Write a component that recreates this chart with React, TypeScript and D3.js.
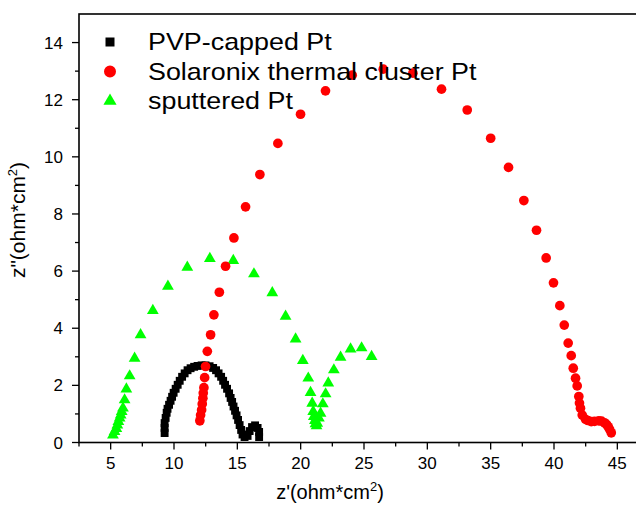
import React, { useRef, useEffect } from 'react';
import { select, scaleLinear, range, symbol, symbolSquare, symbolCircle, symbolTriangle } from 'd3';

// PVP-capped Pt (black squares)
const pvpRe = [9.26, 9.26, 9.26, 9.34, 9.42, 9.49, 9.61, 9.73, 9.85, 9.97, 10.13, 10.29, 10.45, 10.64, 10.84, 11.07, 11.31, 11.59, 11.86, 12.18, 12.49, 12.81, 13.09, 13.32, 13.52, 13.72, 13.88, 14.03, 14.19, 14.35, 14.47, 14.59, 14.7, 14.82, 14.94, 15.06, 15.18, 15.3, 15.41, 15.57, 15.81, 15.97, 16.16, 16.4, 16.6, 16.72, 16.72];
const pvpIm = [0.33, 0.51, 0.68, 0.86, 1.04, 1.18, 1.32, 1.46, 1.6, 1.74, 1.88, 2.02, 2.16, 2.3, 2.42, 2.53, 2.6, 2.65, 2.68, 2.7, 2.7, 2.67, 2.61, 2.53, 2.42, 2.3, 2.16, 2.02, 1.88, 1.72, 1.56, 1.42, 1.26, 1.11, 0.95, 0.79, 0.61, 0.44, 0.28, 0.19, 0.23, 0.4, 0.54, 0.6, 0.51, 0.37, 0.19];

// Solaronix thermal cluster Pt (red circles)
const solRe = [12.04, 12.1, 12.18, 12.23, 12.28, 12.31, 12.36, 12.42, 12.49, 12.63, 12.89, 13.15, 13.58, 14.07, 14.73, 15.65, 16.78, 18.2, 19.99, 21.96, 24.07, 26.52, 28.86, 31.12, 33.15, 35.0, 36.41, 37.62, 38.62, 39.38, 39.96, 40.46, 40.81, 41.12, 41.36, 41.52, 41.7, 41.83, 41.96, 42.01, 42.09, 42.23, 42.49, 42.68, 42.94, 43.2, 43.54, 43.75, 43.99, 44.15, 44.28, 44.39, 44.52];
const solIm = [0.76, 0.96, 1.14, 1.35, 1.55, 1.73, 1.92, 2.27, 2.66, 3.19, 3.77, 4.47, 5.26, 6.17, 7.16, 8.25, 9.38, 10.47, 11.49, 12.31, 12.86, 13.07, 12.93, 12.37, 11.64, 10.65, 9.63, 8.47, 7.43, 6.46, 5.59, 4.79, 4.11, 3.48, 3.04, 2.6, 2.25, 1.98, 1.61, 1.38, 1.2, 0.96, 0.81, 0.77, 0.73, 0.74, 0.76, 0.75, 0.69, 0.63, 0.55, 0.46, 0.34];

// sputtered Pt (green triangles)
const spuRe = [5.18, 5.31, 5.45, 5.53, 5.61, 5.71, 5.79, 5.87, 5.97, 6.1, 6.24, 6.5, 6.89, 7.36, 8.33, 9.52, 11.05, 12.83, 14.68, 16.31, 17.76, 18.81, 19.6, 20.17, 20.6, 20.78, 20.91, 20.99, 21.04, 21.12, 21.17, 21.25, 21.31, 21.44, 21.57, 21.75, 21.97, 22.18, 22.62, 23.15, 23.94, 24.81, 25.6];
const spuIm = [0.26, 0.38, 0.49, 0.61, 0.73, 0.85, 0.96, 1.08, 1.2, 1.49, 1.87, 2.33, 2.95, 3.77, 4.62, 5.47, 6.13, 6.44, 6.37, 5.9, 5.24, 4.42, 3.62, 2.87, 2.25, 1.75, 1.37, 1.08, 0.91, 0.77, 0.65, 0.58, 0.67, 0.85, 1.02, 1.35, 1.7, 2.08, 2.54, 2.98, 3.27, 3.31, 3.01];

const xTicks = [5, 10, 15, 20, 25, 30, 35, 40, 45];
const yTicks = [0, 2, 4, 6, 8, 10, 12, 14];
const legendNames = ['PVP-capped Pt', 'Solaronix thermal cluster Pt', 'sputtered Pt'];

const font = "Arial, 'Liberation Sans', sans-serif";

function App() {
	const width = 636;
	const height = 508;
	const svgRef = useRef<SVGSVGElement>(null);

	useEffect(() => {
		const svg = select(svgRef.current);
		svg.selectAll('*').remove();

		const x = scaleLinear().domain([2.5, 47.5]).range([79, 649]);
		const y = scaleLinear().domain([0, 15]).range([442.5, 14]);

		const series = [
			{ re: spuRe, im: spuIm, type: symbolTriangle, size: 60, color: '#00ff00' },
			{ re: pvpRe, im: pvpIm, type: symbolSquare, size: 62, color: '#000000' },
			{ re: solRe, im: solIm, type: symbolCircle, size: 74, color: '#ff0000' },
		];

		series.forEach((s) => {
			svg
				.append('g')
				.selectAll('path')
				.data(s.re.map((v, i) => [v, s.im[i]]))
				.join('path')
				.attr('d', symbol().type(s.type).size(s.size)())
				.attr('transform', (d) => `translate(${x(d[0])},${y(d[1])})`)
				.attr('fill', s.color);
		});

		// frame
		const frame = svg.append('g').attr('stroke', '#000').attr('stroke-width', 1.6).attr('fill', 'none');
		frame.append('rect').attr('x', x(2.5)).attr('y', y(15)).attr('width', x(47.5) - x(2.5)).attr('height', y(0) - y(15));

		// x ticks
		const xMinor = range(2.5, 47.6, 2.5).filter((v) => v % 5 !== 0);
		svg
			.append('g')
			.selectAll('line')
			.data([...xTicks.map((v) => [v, 7]), ...xMinor.map((v) => [v, 4])])
			.join('line')
			.attr('x1', (d) => x(d[0]))
			.attr('x2', (d) => x(d[0]))
			.attr('y1', y(0))
			.attr('y2', (d) => y(0) + d[1])
			.attr('stroke', '#000')
			.attr('stroke-width', 1.3);
		svg
			.append('g')
			.selectAll('text')
			.data(xTicks)
			.join('text')
			.attr('x', (d) => x(d))
			.attr('y', y(0) + 26)
			.attr('text-anchor', 'middle')
			.attr('font-family', font)
			.attr('font-size', 17)
			.text((d) => d);

		// y ticks
		const yMinor = range(1, 15, 2);
		svg
			.append('g')
			.selectAll('line')
			.data([...yTicks.map((v) => [v, 7]), ...yMinor.map((v) => [v, 4])])
			.join('line')
			.attr('x1', x(2.5))
			.attr('x2', (d) => x(2.5) - d[1])
			.attr('y1', (d) => y(d[0]))
			.attr('y2', (d) => y(d[0]))
			.attr('stroke', '#000')
			.attr('stroke-width', 1.3);
		svg
			.append('g')
			.selectAll('text')
			.data(yTicks)
			.join('text')
			.attr('x', 63)
			.attr('y', (d) => y(d) + 6)
			.attr('text-anchor', 'end')
			.attr('font-family', font)
			.attr('font-size', 17)
			.text((d) => d);

		// axis titles
		const xt = svg
			.append('text')
			.attr('x', 330)
			.attr('y', 499)
			.attr('text-anchor', 'middle')
			.attr('font-family', font)
			.attr('font-size', 20);
		xt.append('tspan').text("z'(ohm*cm");
		xt.append('tspan').attr('font-size', 13).attr('dy', -8).text('2');
		xt.append('tspan').attr('dy', 8).text(')');

		const yt = svg
			.append('text')
			.attr('transform', 'translate(25,220) rotate(-90)')
			.attr('text-anchor', 'middle')
			.attr('font-family', font)
			.attr('font-size', 21);
		yt.append('tspan').text('z"(ohm*cm');
		yt.append('tspan').attr('font-size', 13).attr('dy', -8).text('2');
		yt.append('tspan').attr('dy', 8).text(')');

		// legend
		const legend = svg.append('g');
		const legendMarks = [
			{ type: symbolSquare, size: 81, color: '#000000' },
			{ type: symbolCircle, size: 113, color: '#ff0000' },
			{ type: symbolTriangle, size: 75, color: '#00ff00' },
		];
		legendNames.forEach((name, i) => {
			const cy = 42 + i * 29.5;
			legend
				.append('path')
				.attr('d', symbol().type(legendMarks[i].type).size(legendMarks[i].size)())
				.attr('transform', `translate(110,${cy})`)
				.attr('fill', legendMarks[i].color);
			legend
				.append('text')
				.attr('transform', `translate(148,${cy + 8}) scale(1.12,1)`)
				.attr('font-family', font)
				.attr('font-size', 24)
				.text(name);
		});
	}, []);

	return (
		<svg
			ref={svgRef}
			width={width}
			height={height}
			style={{ position: 'absolute', left: 0, top: 0, background: '#fff' }}
		></svg>
	);
}

export default App;
